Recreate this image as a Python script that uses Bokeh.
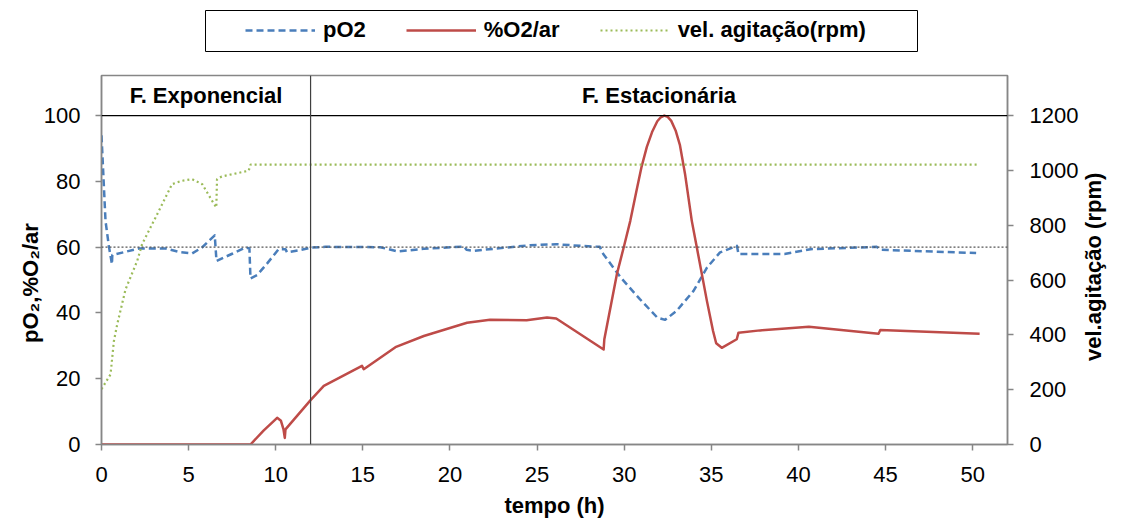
import numpy as np
from bokeh.plotting import figure
from bokeh.models import (Range1d, LinearAxis, FixedTicker, Span, Legend,
                          LegendItem)
from bokeh.layouts import column
from bokeh.embed import file_html
from bokeh.resources import INLINE
from bokeh.core.properties import value

FONT = "Liberation Sans"

# ---------------- data ----------------
t_po2 = [0, 0.23, 0.42, 0.6, 0.62, 2.14, 3.67, 4.5, 5.2, 5.77, 6.5, 6.6, 7.5,
         8.26, 8.49, 8.55, 8.93, 9.5, 10.17, 10.56, 10.65, 11.3, 12.09, 12.85,
         16.0, 17.0, 18.5, 20.8, 20.95, 21.36, 24.6, 26.1, 27.5, 28.6, 28.8,
         29.8, 30.9, 31.9, 32.35, 33.0, 33.98, 34.75, 35.5, 36.47, 36.56, 37.8,
         39.2, 40.7, 44.5, 44.7, 50.2]
po2 = [94, 68, 60.4, 54.8, 57.6, 59.6, 59.6, 58.5, 58.1, 59.9, 63.6, 55.8, 58.0,
       59.9, 59.6, 50.5, 51.5, 55.0, 59.4, 59.4, 58.4, 59.0, 59.9, 60.1,
       60.0, 58.7, 59.5, 60.2, 59.2, 58.9, 60.6, 60.9, 60.4, 60.1, 57.9,
       50.8, 44.2, 38.6, 37.9, 40.6, 46.7, 53.8, 58.4, 60.4, 57.9, 57.9,
       57.9, 59.4, 60.1, 59.2, 58.2]

t_o2ar = [0, 8.55, 9.3, 10.08, 10.3, 10.45, 10.52, 10.56, 12.0, 12.76, 14.95,
          15.05, 16.87, 18.5, 20.98, 22.3, 24.4, 25.57, 26.1, 28.82, 28.86,
          29.58, 30.0, 30.35, 30.7, 31.0, 31.3, 31.6, 31.9, 32.1, 32.3, 32.5,
          32.7, 32.95, 33.2, 33.5, 33.88, 34.17, 34.75, 35.1, 35.28, 35.6,
          36.46, 36.56, 37.8, 40.6, 44.6, 44.7, 50.4]
o2ar = [0, 0, 4.2, 8.1, 7.2, 4.5, 2.0, 4.6, 13.5, 17.8, 23.9,
        22.9, 29.6, 33.0, 37.0, 37.9, 37.8, 38.6, 38.3, 28.9, 32.0,
        51.8, 60.5, 68, 77, 84.5, 90.5, 95, 98.3, 99.5, 100, 99.6,
        98.4, 95.5, 91, 82, 68, 59.9, 43.6, 34.5, 30.8, 29.4,
        32.0, 34.0, 34.7, 35.8, 33.7, 34.8, 33.7]

t_rpm = [0, 0.52, 0.71, 0.9, 1.38, 2.05, 2.33, 3.1, 4.05, 4.6, 5.2, 5.78, 6.35,
         6.59, 6.63, 6.9, 8.45, 8.55, 50.3]
rpm = [202, 256, 377, 438, 566, 670, 731, 828, 950, 962, 968, 950, 889,
       865, 968, 978, 999, 1021, 1021]

series_names = ["pO2", "%O2/ar", "vel. agitação(rpm)"]
series_colors = ["#4A7EBB", "#BE4B48", "#9BBB59"]
phase_names = ["F. Exponencial", "F. Estacionária"]
phase_bounds = [0, 12, 52]
x_ticks = list(range(0, 51, 5))
left_ticks = [0, 20, 40, 60, 80, 100]
right_ticks = [0, 200, 400, 600, 800, 1000, 1200]
x_title = "tempo (h)"
left_title = "pO₂,%O₂/ar"
right_title = "vel.agitação (rpm)"
setpoint = 60
y_max = 112.2
rpm_max = 1200 * y_max / 100

GRAY = "#868686"
FRAME_L, FRAME_R = 101, 1007

# ---------------- legend strip ----------------
leg = figure(width=1123, height=74, x_range=Range1d(FRAME_L, FRAME_R), y_range=Range1d(74, 0),
             output_backend="svg", toolbar_location=None, min_border=0,
             min_border_left=FRAME_L, min_border_right=1123 - FRAME_R)
leg.axis.visible = False
leg.grid.visible = False
leg.outline_line_color = None
leg.quad(left=[205], right=[917], top=[10], bottom=[51], fill_color="white",
         line_color="black", line_width=1)
dashes = ["7 4", "solid", "2 3"]
widths = [2.5, 2.5, 2.2]
items = []
for name, col, dsh, w in zip(series_names, series_colors, dashes, widths):
    r = leg.line(x=[np.nan, np.nan], y=[np.nan, np.nan], line_color=col,
                 line_dash=dsh, line_width=w)
    items.append(LegendItem(label=name, renderers=[r]))
legend = Legend(items=items, orientation="horizontal", location=(245 - FRAME_L, 31),
                border_line_alpha=0, background_fill_alpha=0, padding=0,
                spacing=40, glyph_width=70, label_standoff=8,
                label_text_font=FONT, label_text_font_size="22px",
                label_text_font_style="bold", label_text_color="black")
leg.add_layout(legend)

# ---------------- main chart ----------------
p = figure(width=1123, height=450, x_range=Range1d(0, 52), y_range=Range1d(0, y_max),
           output_backend="svg", toolbar_location=None,
           min_border_left=FRAME_L, min_border_right=1123 - FRAME_R, min_border_top=1,
           min_border_bottom=80)
p.extra_y_ranges = {"rpm": Range1d(0, rpm_max)}
p.grid.visible = False
p.outline_line_color = GRAY
p.outline_line_width = 1.5

p.line(t_po2, po2, line_color=series_colors[0], line_width=2.5, line_dash="7 4",
       line_join="round")
p.line(t_o2ar, o2ar, line_color=series_colors[1], line_width=2.5, line_join="round")
p.line(t_rpm, rpm, line_color=series_colors[2], line_width=2.2, line_dash="2 3",
       y_range_name="rpm")

p.add_layout(Span(location=setpoint, dimension="width", line_color="#555555",
                  line_width=1.2, line_dash="2 2"))
p.add_layout(Span(location=100, dimension="width", line_color="black", line_width=1.2))
p.add_layout(Span(location=phase_bounds[1], dimension="height", line_color="#404040",
                  line_width=1.2))

mids = [(a + b) / 2 for a, b in zip(phase_bounds[:-1], phase_bounds[1:])]
p.text(x=mids, y=[(100 + y_max) / 2] * len(mids), text=phase_names,
       text_font=value(FONT), text_font_size="22px", text_font_style="bold",
       text_align="center", text_baseline="middle", text_color="black")

def style_axis(ax):
    ax.axis_line_color = GRAY
    ax.axis_line_width = 1.5
    ax.major_tick_line_color = GRAY
    ax.major_tick_line_width = 1.5
    ax.major_tick_out = 6
    ax.major_tick_in = 0
    ax.minor_tick_line_color = None
    ax.major_label_text_font = FONT
    ax.major_label_text_font_size = "22px"
    ax.major_label_text_color = "black"
    ax.axis_label_text_font = FONT
    ax.axis_label_text_font_size = "22px"
    ax.axis_label_text_font_style = "bold"
    ax.axis_label_text_color = "black"

xa = p.xaxis[0]
style_axis(xa)
xa.ticker = FixedTicker(ticks=x_ticks)
xa.axis_label = x_title
xa.major_label_standoff = 16
xa.axis_label_standoff = 8

ya = p.yaxis[0]
style_axis(ya)
ya.ticker = FixedTicker(ticks=left_ticks)
ya.major_label_standoff = 15

ra = LinearAxis(y_range_name="rpm", ticker=FixedTicker(ticks=right_ticks))
style_axis(ra)
ra.major_label_standoff = 16
p.add_layout(ra, "right")

# Vertical axis titles reading bottom-to-top on both sides (as in the reference):
# drawn as a single rotated label on a bare outer axis.
def title_axis(anchor, text, standoff):
    ax = LinearAxis(ticker=FixedTicker(ticks=[anchor]),
                    major_label_overrides={anchor: text},
                    major_label_orientation=np.pi / 2)
    ax.axis_line_color = None
    ax.major_tick_line_color = None
    ax.minor_tick_line_color = None
    ax.major_tick_out = 0
    ax.major_tick_in = 0
    ax.major_label_standoff = standoff
    ax.major_label_text_font = FONT
    ax.major_label_text_font_size = "22px"
    ax.major_label_text_font_style = "bold"
    ax.major_label_text_color = "black"
    return ax

p.add_layout(title_axis(67.3, left_title, 10), "left")    # anchor = top end of text
p.add_layout(title_axis(25.4, right_title, 12), "right")  # anchor = bottom end of text

layout = column(leg, p, spacing=0)
open("out.html", "w").write(file_html(layout, INLINE))
